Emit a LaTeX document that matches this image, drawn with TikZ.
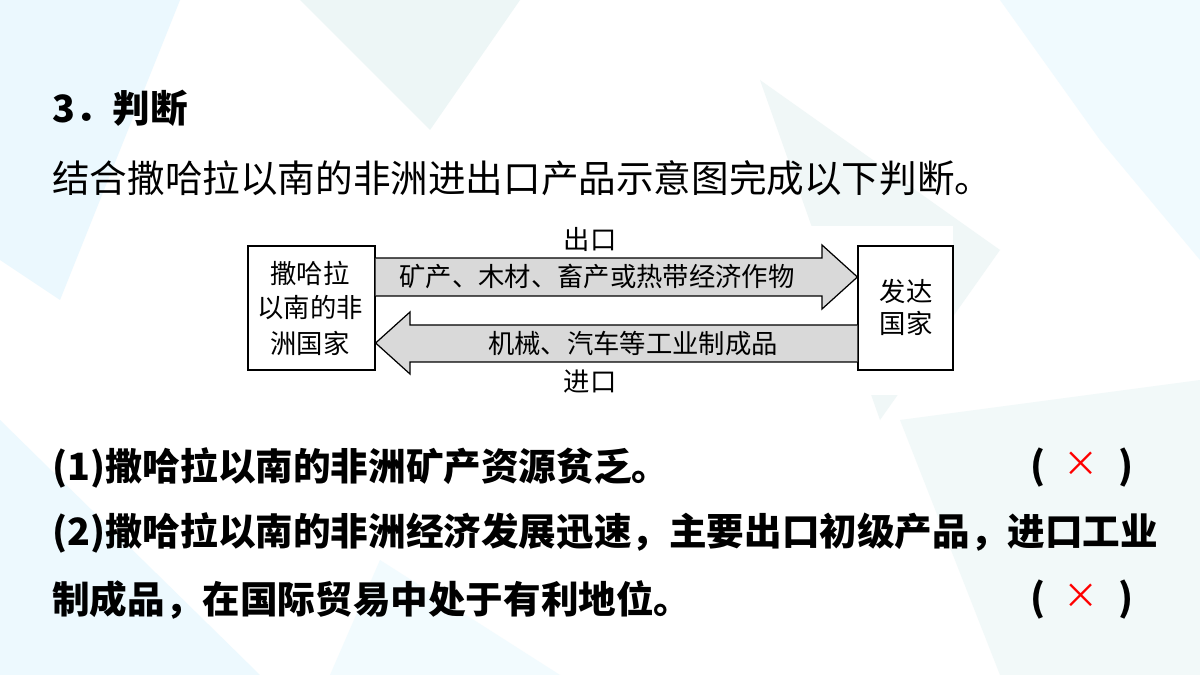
\documentclass[tikz,border=0pt]{standalone}
\usepackage{fontspec}
\newfontfamily\cjk{Noto Sans CJK SC}
\setmainfont{Liberation Serif}
\begin{document}
\begin{tikzpicture}[x=0.02cm,y=-0.02cm,
  bx/.style={draw,line width=0.7pt,fill=white},
  arr/.style={draw,line width=0.7pt,fill=gray!30},
  dt/.style={font=\cjk\fontsize{15pt}{18pt}\selectfont,inner sep=0pt},
  big/.style={font=\cjk\bfseries\fontsize{21.4pt}{24pt}\selectfont,anchor=west,inner sep=0pt},
  xmk/.style={font=\cjk\fontsize{20pt}{22pt}\selectfont,inner sep=0pt}]
\useasboundingbox (0,0) rectangle (1200,675);
\fill[white] (0,0) rectangle (1200,675);
% background shapes
\fill[cyan!8] (0,0) -- (180,0) -- (60,300) -- (0,260) -- cycle;
\fill[teal!7] (300,0) -- (520,0) -- (430,130) -- cycle;
\fill[cyan!6] (1000,0) -- (1200,0) -- (1200,260) -- (1100,140) -- cycle;
\fill[teal!6] (760,80) -- (1000,250) -- (880,420) -- cycle;
\fill[cyan!7] (0,420) -- (260,675) -- (0,675) -- cycle;
\fill[teal!5] (900,420) -- (1200,380) -- (1200,675) -- (1000,675) -- cycle;
\fill[cyan!5] (380,560) -- (560,675) -- (330,675) -- cycle;
% texts
\node[big] (t1) at (52,108) {3．判断};
\node[big,font=\cjk\fontsize{21.4pt}{24pt}\selectfont] (t2) at (52,178) {结合撒哈拉以南的非洲进出口产品示意图完成以下判断。};
\node[big] (q1) at (52,468) {(1)撒哈拉以南的非洲矿产资源贫乏。};
\node[big] (q2) at (52,533) {(2)撒哈拉以南的非洲经济发展迅速，主要出口初级产品，进口工业};
\node[big] (q3) at (52,600) {制成品，在国际贸易中处于有利地位。};
\node[big] (p1) at (1030,468) {(\hspace{1.95em})};
\node[big] (p2) at (1030,600) {(\hspace{1.95em})};
\node[xmk,text=red] (x1) at (1081,464) {×};
\node[xmk,text=red] (x2) at (1081,596) {×};
% diagram
\fill[white] (246,226) rectangle (953,395);
\node[bx,minimum width=127*0.02cm,minimum height=124*0.02cm] (L) at (311.5,308) {};
\node[bx,minimum width=95*0.02cm,minimum height=124*0.02cm] (R) at (905.5,308) {};
\draw[arr] (L.east|-0,258) -- (822,258) -- (822,245) -- (R.west|-0,277) -- (822,309) -- (822,296) -- (L.east|-0,296);
\draw[arr] (R.west|-0,325) -- (410,325) -- (410,312) -- (L.east|-0,343) -- (410,374) -- (410,362) -- (R.west|-0,362);
\node[dt] (l1) at (310,273) {撒哈拉};
\node[dt] (l2) at (310,308) {以南的非};
\node[dt] (l3) at (310,343) {洲国家};
\node[dt] (r1) at (906,291) {发达};
\node[dt] (r2) at (906,323) {国家};
\node[dt] (a1) at (597,276) {矿产、木材、畜产或热带经济作物};
\node[dt] (a2) at (633,344) {机械、汽车等工业制成品};
\node[dt] (e1) at (590,239) {出口};
\node[dt] (e2) at (590,382) {进口};
\end{tikzpicture}
\end{document}
